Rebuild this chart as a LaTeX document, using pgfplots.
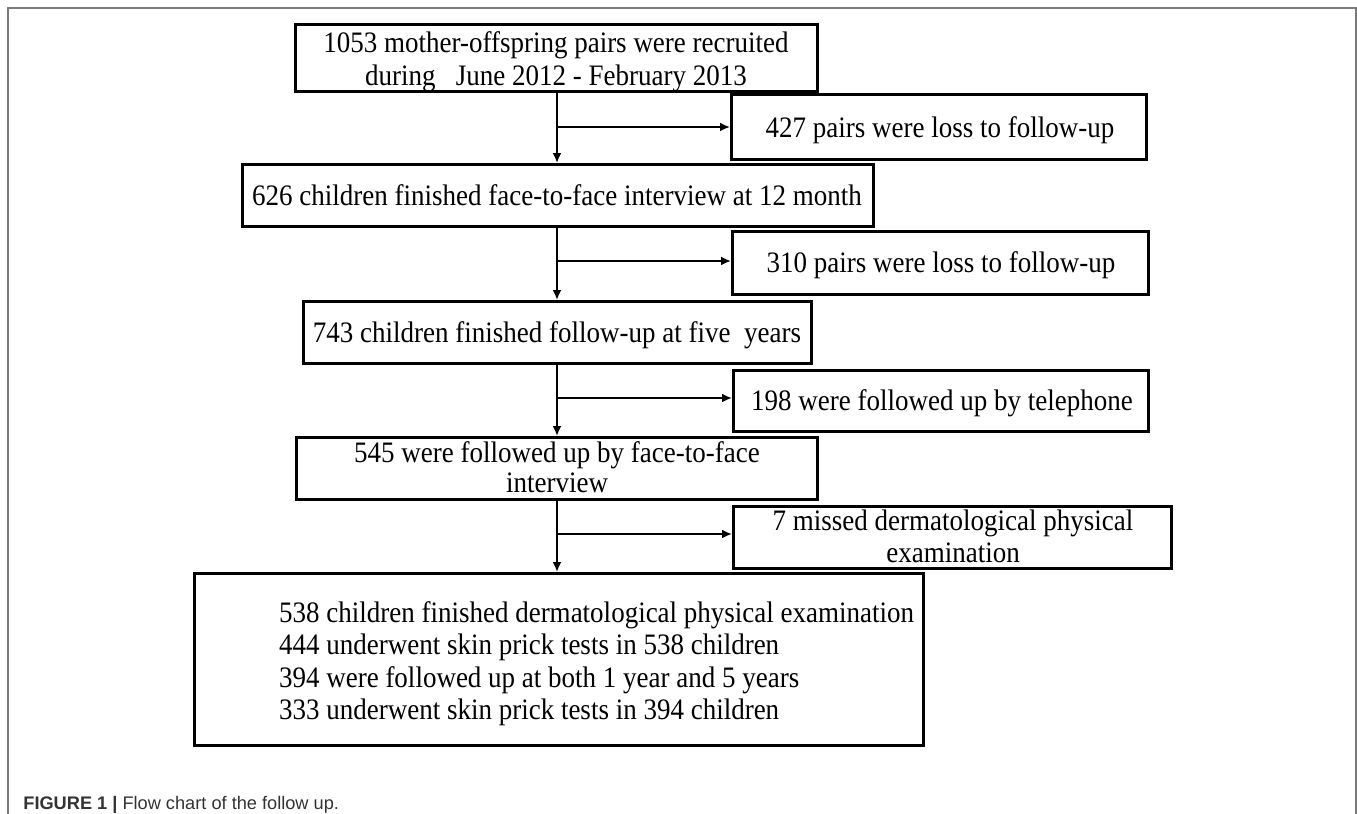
\documentclass[border=0pt]{standalone}
\usepackage{pgfplots}
\pgfplotsset{compat=1.18}
\usepackage{fontspec}
\usepackage{graphicx}
\setmainfont{Liberation Serif}
\newfontfamily\capfont{Liberation Sans}
\usetikzlibrary{arrows.meta}
\definecolor{framegray}{HTML}{7A7A7A}
\definecolor{capgray}{HTML}{333333}
\newcommand{\bfnt}{\fontsize{13.5bp}{16bp}\selectfont}
\newcommand{\st}[1]{\scalebox{1}[1.1]{#1}}
\begin{document}
\begin{tikzpicture}
\begin{axis}[
  scale only axis, width=678.5bp, height=407bp,
  xmin=0, xmax=1357, ymin=0, ymax=814, y dir=reverse,
  hide axis, clip=false,
  boxline/.style={black, line width=1.5bp, line cap=rect, line join=miter, mark=none},
  arr/.style={black, line width=1.3bp, mark=none, -{Latex[length=5bp,width=4.5bp]}},
]
% outer frame
\addplot[framegray, line width=1.1bp, mark=none] coordinates {(8,814) (8,8) (1356,8) (1356,814)};

% boxes
\addplot[boxline] coordinates {(295,25) (817,25) (817,92) (295,92) (295,25)};
\addplot[boxline] coordinates {(731,95) (1146,95) (1146,159) (731,159) (731,95)};
\addplot[boxline] coordinates {(242,164) (873,164) (873,226) (242,226) (242,164)};
\addplot[boxline] coordinates {(732,231) (1148,231) (1148,294) (732,294) (732,231)};
\addplot[boxline] coordinates {(303,301) (811,301) (811,363) (303,363) (303,301)};
\addplot[boxline] coordinates {(733,370) (1148,370) (1148,431) (733,431) (733,370)};
\addplot[boxline] coordinates {(296,437) (817,437) (817,499) (296,499) (296,437)};
\addplot[boxline] coordinates {(733,506) (1171,506) (1171,568) (733,568) (733,506)};
\addplot[boxline] coordinates {(194,573) (923,573) (923,745) (194,745) (194,573)};

% vertical arrows
\addplot[arr] coordinates {(557,92) (557,163)};
\addplot[arr] coordinates {(557,226) (557,300)};
\addplot[arr] coordinates {(557,363) (557,436)};
\addplot[arr] coordinates {(557,499) (557,572)};
% horizontal arrows
\addplot[arr] coordinates {(557,127) (730,127)};
\addplot[arr] coordinates {(557,261) (731,261)};
\addplot[arr] coordinates {(557,398) (732,398)};
\addplot[arr] coordinates {(557,534) (732,534)};

% texts
\node[anchor=base, font=\bfnt] at (axis cs:556,53) {\st{1053 mother-offspring pairs were recruited}};
\node[anchor=base, font=\bfnt] at (axis cs:556,85) {\st{during\ \ \ June 2012 - February 2013}};
\node[anchor=base, font=\bfnt] at (axis cs:940,137) {\st{427 pairs were loss to follow-up}};
\node[anchor=base, font=\bfnt] at (axis cs:557,205) {\st{626 children finished face-to-face interview at 12 month}};
\node[anchor=base, font=\bfnt] at (axis cs:941,272) {\st{310 pairs were loss to follow-up}};
\node[anchor=base, font=\bfnt] at (axis cs:557,342) {\st{743 children finished follow-up at five\ \ years}};
\node[anchor=base, font=\bfnt] at (axis cs:942,410) {\st{198 were followed up by telephone}};
\node[anchor=base, font=\bfnt] at (axis cs:557,462) {\st{545 were followed up by face-to-face}};
\node[anchor=base, font=\bfnt] at (axis cs:557,492) {\st{interview}};
\node[anchor=base, font=\bfnt] at (axis cs:953,530) {\st{7 missed dermatological physical}};
\node[anchor=base, font=\bfnt] at (axis cs:953,562) {\st{examination}};
\node[anchor=base west, font=\bfnt] at (axis cs:272,622) {\st{538 children finished dermatological physical examination}};
\node[anchor=base west, font=\bfnt] at (axis cs:272,654) {\st{444 underwent skin prick tests in 538 children}};
\node[anchor=base west, font=\bfnt] at (axis cs:272,687) {\st{394 were followed up at both 1 year and 5 years}};
\node[anchor=base west, font=\bfnt] at (axis cs:272,719) {\st{333 underwent skin prick tests in 394 children}};

% caption
\node[anchor=base west, font=\capfont\fontsize{9.1bp}{10bp}\selectfont, text=capgray, inner sep=0pt] at (axis cs:23,809) {\textbf{FIGURE 1 \textbar} Flow chart of the follow up.};
\end{axis}
\pgfresetboundingbox
\path (current axis.south west) rectangle (current axis.north east);
\end{tikzpicture}
\end{document}
